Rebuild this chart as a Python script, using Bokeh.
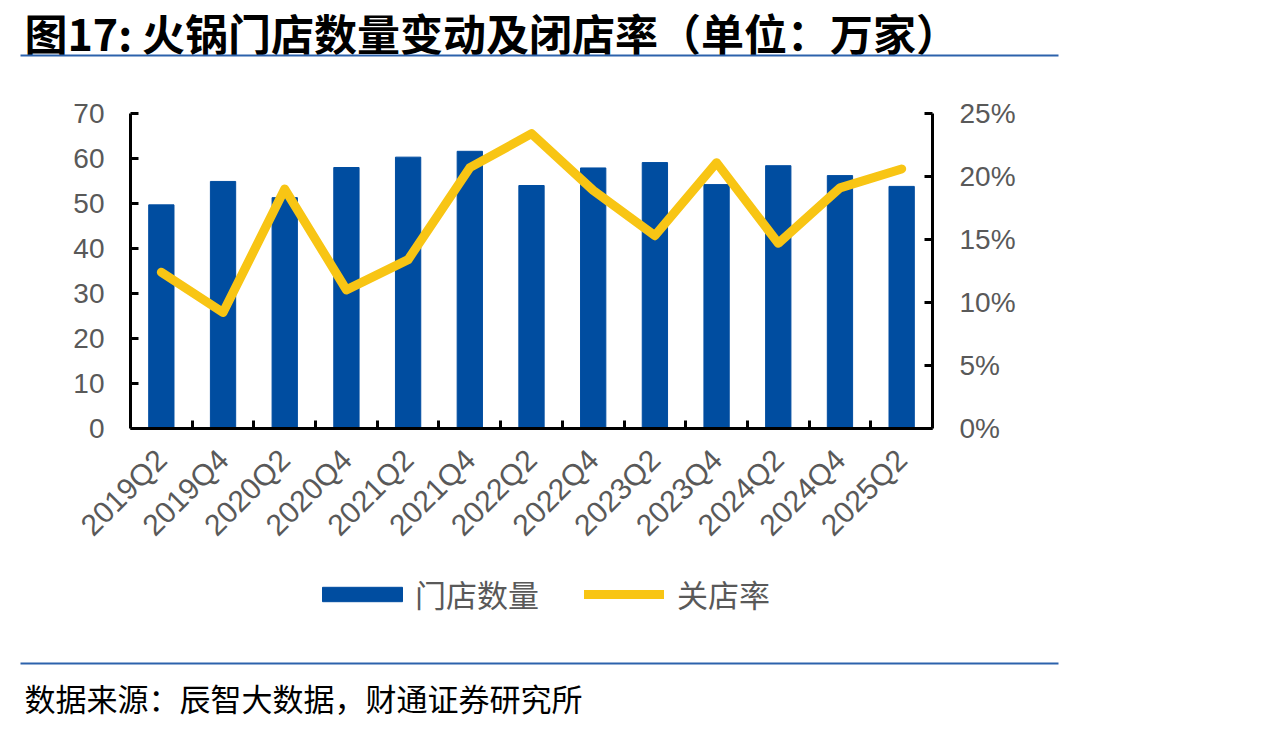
import math

from bokeh.embed import file_html
from bokeh.models import (BoxAnnotation, ColumnDataSource, FixedTicker, Label,
                          Legend, LegendItem, LinearAxis, NumeralTickFormatter,
                          Range1d)
from bokeh.plotting import figure
from bokeh.resources import INLINE

# ---- data -----------------------------------------------------------------
quarters = ["2019Q2", "2019Q4", "2020Q2", "2020Q4", "2021Q2", "2021Q4", "2022Q2",
            "2022Q4", "2023Q2", "2023Q4", "2024Q2", "2024Q4", "2025Q2"]
stores = [49.7, 54.9, 51.3, 58.0, 60.3, 61.6, 54.0, 57.9, 59.1, 54.2, 58.4, 56.2, 53.8]
closure_rate = [0.124, 0.092, 0.190, 0.110, 0.134, 0.207, 0.234, 0.189, 0.153,
                0.211, 0.147, 0.191, 0.206]
left_ticks = [0, 10, 20, 30, 40, 50, 60, 70]
right_ticks = [0.0, 0.05, 0.10, 0.15, 0.20, 0.25]
STORE_MAX, RATE_MAX = 70, 0.25

title_text = "图17: 火锅门店数量变动及闭店率（单位：万家）"
source_text = "数据来源：辰智大数据，财通证券研究所"

BLUE = "#004DA0"
YELLOW = "#F8C514"
GREY = "#595959"
RULE = "#2C62AC"
CJK = "Noto Sans CJK SC"
NUM = "Liberation Sans"

# canvas size and the pixel box that holds the axes
W, H = 1275, 729
FL, FR, FT, FB = 130, 932, 113, 428

n = len(quarters)
centers = [i + 0.5 for i in range(n)]
bounds = list(range(1, n))
src = ColumnDataSource(dict(x=centers, stores=stores, rate=closure_rate))

# The plot frame fills the whole canvas; the ranges are stretched so that the
# category axis spans FL..FR and the value axes span FB..FT.
cw = (FR - FL) / n
ppu = (FB - FT) / STORE_MAX
ppr = (FB - FT) / RATE_MAX
x_range = Range1d(-FL / cw, n + (W - FR) / cw)
y_range = Range1d(-(H - FB) / ppu, FB / ppu)
rate_range = Range1d(-(H - FB) / ppr, FB / ppr)

p = figure(width=W, height=H, output_backend="svg", toolbar_location=None,
           x_range=x_range, y_range=y_range, x_axis_type=None, y_axis_type=None,
           min_border=0, outline_line_color=None,
           background_fill_color="white", border_fill_color="white")
p.grid.visible = False
p.extra_y_ranges = {"rate": rate_range}


def style_axis(ax, size="28px"):
    ax.axis_line_color = "black"
    ax.axis_line_width = 3
    ax.major_tick_line_color = "black"
    ax.major_tick_line_width = 3
    ax.major_tick_in = 8
    ax.major_tick_out = 0
    ax.minor_tick_line_color = None
    ax.major_label_text_font = NUM
    ax.major_label_text_font_size = size
    ax.major_label_text_color = GREY


# left axis: number of stores (万家)
ly = LinearAxis(fixed_location=0, bounds=(0, STORE_MAX),
                ticker=FixedTicker(ticks=left_ticks))
style_axis(ly)
ly.major_label_standoff = 26
p.add_layout(ly, "left")

# right axis: closure rate
ry = LinearAxis(fixed_location=n, bounds=(0, RATE_MAX), y_range_name="rate",
                ticker=FixedTicker(ticks=right_ticks),
                formatter=NumeralTickFormatter(format="0%"))
style_axis(ry)
ry.major_label_standoff = 27
p.add_layout(ry, "right")

# category axis: labels at the centres, tick marks on the boundaries
bx = LinearAxis(fixed_location=0, bounds=(0, n),
                ticker=FixedTicker(ticks=centers, minor_ticks=bounds),
                major_label_overrides={c: q for c, q in zip(centers, quarters)})
style_axis(bx, "30px")
bx.major_tick_line_color = None
bx.minor_tick_line_color = "black"
bx.minor_tick_line_width = 3
bx.minor_tick_in = 8
bx.minor_tick_out = 0
bx.major_label_orientation = math.pi / 4
bx.major_label_standoff = 26
p.add_layout(bx, "below")

bars = p.vbar(x="x", top="stores", width=0.41, source=src,
              fill_color=BLUE, line_color=BLUE)
line = p.line(x="x", y="rate", source=src, y_range_name="rate",
              line_color=YELLOW, line_width=9, line_cap="round", line_join="round")

# one legend per series so that each key gets its own size
legend_style = dict(orientation="horizontal", padding=0, margin=0,
                    border_line_color=None, background_fill_alpha=0,
                    label_text_font=CJK, label_text_font_size="31px",
                    label_text_color=GREY)
p.add_layout(Legend(items=[LegendItem(label="门店数量", renderers=[bars])],
                    location=(312, H - 616), glyph_width=100, glyph_height=18,
                    label_standoff=3, **legend_style), "center")
p.add_layout(Legend(items=[LegendItem(label="关店率", renderers=[line])],
                    location=(584, H - 616), glyph_width=80, glyph_height=14,
                    label_standoff=13, **legend_style), "center")

# heading, rules and source note (screen units measured from the bottom-left)
p.add_layout(Label(x=24, y=H - 31, x_units="screen", y_units="screen",
                   text=title_text, text_font=CJK, text_font_size="43px",
                   text_font_style="bold", text_color="black",
                   text_baseline="middle"))
for y_rule in (55, 663):
    p.add_layout(BoxAnnotation(left=20, right=1058,
                               top=H - y_rule + 1, bottom=H - y_rule - 1,
                               left_units="screen", right_units="screen",
                               top_units="screen", bottom_units="screen",
                               fill_color=RULE, fill_alpha=1, line_color=None))
p.add_layout(Label(x=24, y=H - 697, x_units="screen", y_units="screen",
                   text=source_text, text_font=CJK, text_font_size="31px",
                   text_color="black", text_baseline="middle"))

open("out.html", "w").write(file_html(p, INLINE))
